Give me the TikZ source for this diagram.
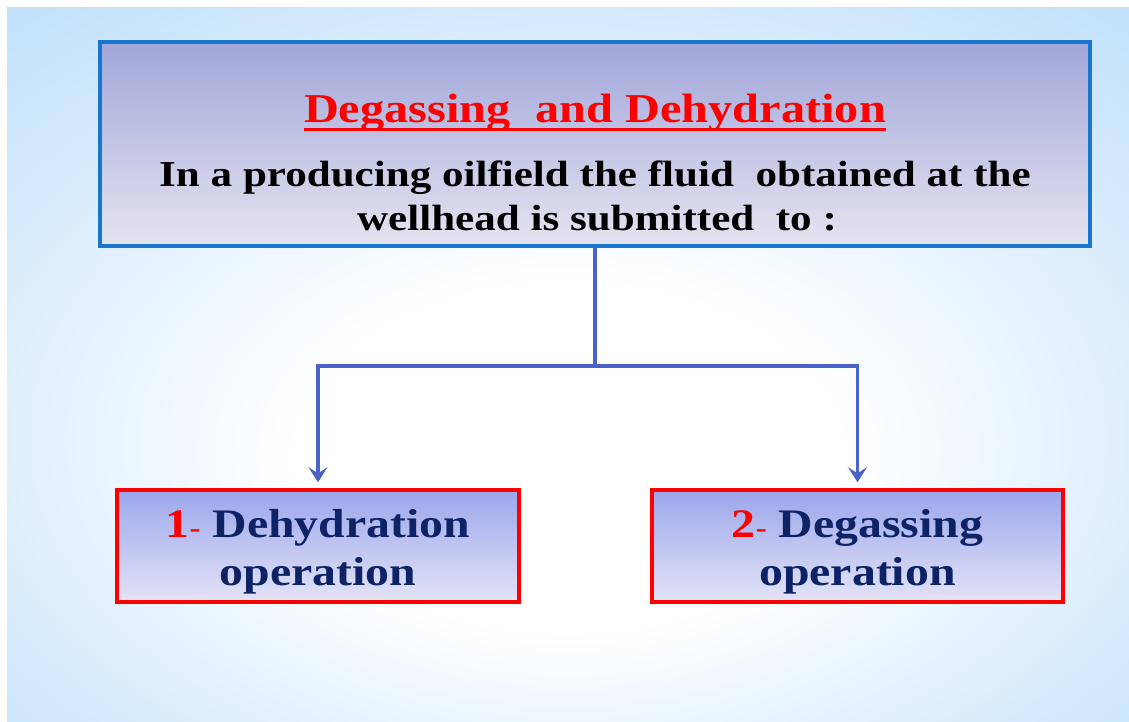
\documentclass[tikz,border=0pt]{standalone}
\usepackage{fontspec}
\setmainfont{Liberation Serif}[FakeStretch=1.18]
\usetikzlibrary{arrows.meta,calc}
\definecolor{sky}{RGB}{160,210,246}
\definecolor{skymid}{RGB}{196,226,250}
\definecolor{topborder}{RGB}{24,118,206}
\definecolor{toptop}{RGB}{162,166,217}
\definecolor{topbot}{RGB}{228,228,240}
\definecolor{bottop}{RGB}{155,166,236}
\definecolor{botbot}{RGB}{228,228,246}
\definecolor{conn}{RGB}{74,99,200}
\definecolor{navy}{RGB}{14,35,102}
\definecolor{redt}{RGB}{255,0,0}
\pgfdeclareradialshading{bgshade}{\pgfpoint{0bp}{-8bp}}{%
  color(0bp)=(white); color(12bp)=(white); color(36bp)=(skymid); color(64bp)=(sky)}
\tikzset{
  headbox/.style={draw=topborder, line width=3.5pt, top color=toptop, bottom color=topbot,
    minimum width=990, minimum height=204, inner sep=0pt},
  opbox/.style={draw=redt, line width=3.5pt, top color=bottop, bottom color=botbot,
    minimum height=112, inner sep=0pt},
  connector/.style={draw=conn, line width=3.2pt},
  arrowconn/.style={connector, -{Stealth[length=15pt,width=19pt,inset=6pt]}, shorten >=6pt},
  bodytext/.style={anchor=base, inner sep=0pt, font=\fontsize{36.5}{40}\selectfont\bfseries},
  titletext/.style={anchor=base, inner sep=0pt, text=redt, font=\fontsize{41}{46}\selectfont\bfseries},
  optext/.style={anchor=base, inner sep=0pt, text=navy, font=\fontsize{40.5}{44}\selectfont\bfseries},
}
\begin{document}
\begin{tikzpicture}[x=1pt,y=-1pt]
\useasboundingbox (0,0) rectangle (1129,722);
\fill[white] (0,0) rectangle (1129,722);
\shade[shading=bgshade] (7,8) rectangle (1129,722);
% boxes
\node[headbox] (head) at (595,144) {};
\node[opbox, minimum width=402] (dehyd) at (318,546) {};
\node[opbox, minimum width=411] (degas) at (857.5,546) {};
% texts
\node[titletext] (title) at (595,123) {Degassing\ \ and Dehydration};
\draw[redt, line width=3pt] ($(title.base west)+(0,7)$) -- ($(title.base east)+(0,7)$);
\node[bodytext] (line1) at (595,187) {In a producing oilfield the fluid\ \ obtained at the};
\node[bodytext] (line2) at (597,230) {wellhead is submitted\ \ to :};
\node[optext] (d1) at (318,537) {\textcolor{redt}{1}{\color{redt}\fontsize{28}{30}\selectfont-} Dehydration};
\node[optext] (d2) at (318,585) {operation};
\node[optext] (g1) at (857.5,537) {\textcolor{redt}{2}{\color{redt}\fontsize{28}{30}\selectfont-} Degassing};
\node[optext] (g2) at (857.5,585) {operation};
% connectors
\coordinate (j) at (595,366);
\draw[connector] (head.south) -- (j);
\draw[arrowconn] (j) -| (dehyd.north);
\draw[arrowconn] (j) -| (degas.north);
\end{tikzpicture}
\end{document}
